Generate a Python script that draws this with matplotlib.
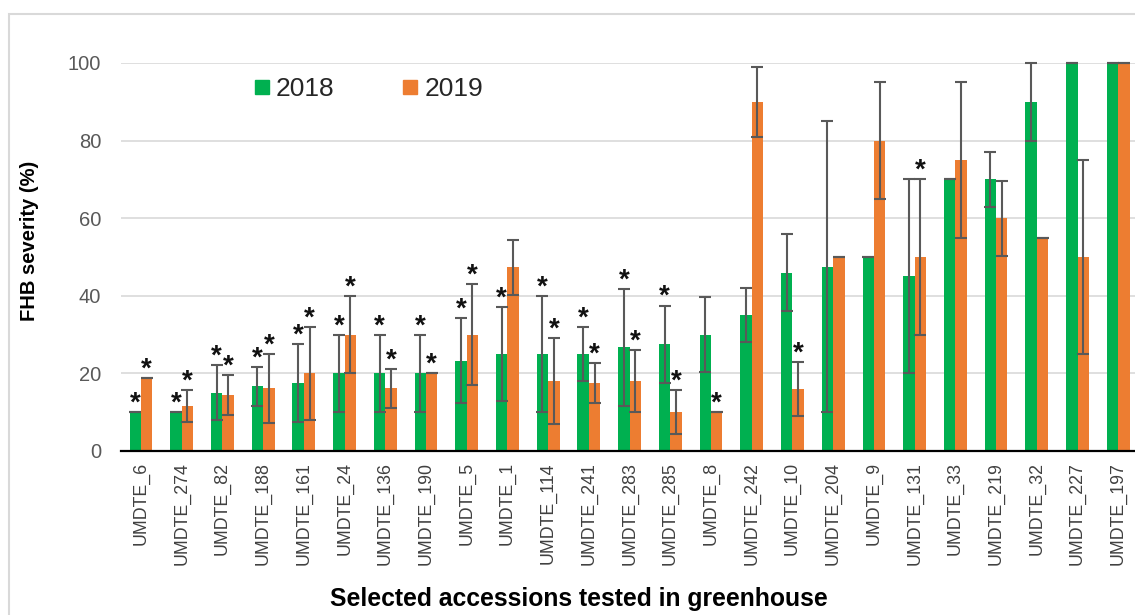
import numpy as np
import matplotlib
matplotlib.use("Agg")
import matplotlib.pyplot as plt
from matplotlib.lines import Line2D
from matplotlib.patches import Rectangle

plt.rcParams['font.family'] = ['Liberation Sans', 'DejaVu Sans']

# accessions and FHB severity means / SD for the two greenhouse seasons
accessions = ['UMDTE_6', 'UMDTE_274', 'UMDTE_82', 'UMDTE_188', 'UMDTE_161', 'UMDTE_24',
              'UMDTE_136', 'UMDTE_190', 'UMDTE_5', 'UMDTE_1', 'UMDTE_114', 'UMDTE_241',
              'UMDTE_283', 'UMDTE_285', 'UMDTE_8', 'UMDTE_242', 'UMDTE_10', 'UMDTE_204',
              'UMDTE_9', 'UMDTE_131', 'UMDTE_33', 'UMDTE_219', 'UMDTE_32', 'UMDTE_227',
              'UMDTE_197']
sev_2018 = [10, 10, 15, 16.7, 17.5, 20, 20, 20, 23.3, 25, 25, 25, 26.7, 27.5, 30,
            35, 46, 47.5, 50, 45, 70, 70, 90, 100, 100]
sd_2018 = [0, 0, 7.1, 5, 10, 10, 10, 10, 11, 12, 15, 7, 15, 10, 9.6,
           7, 10, 37.5, 0, 25, 0, 7, 10, 0, 0]
sev_2019 = [18.7, 11.6, 14.4, 16.2, 20, 30, 16.2, 20, 30, 47.3, 18, 17.5, 18, 10, 10,
            90, 15.9, 50, 80, 50, 75, 60, 55, 50, 100]
sd_2019 = [0, 4, 5.1, 8.9, 12, 10, 5, 0, 13, 7.1, 11, 5.2, 8, 5.6, 0,
           9, 7, 0, 15, 20, 20, 9.7, 0, 25, 0]
# significance markers (1 = asterisk drawn)
sig_2018 = [1, 1, 1, 1, 1, 1, 1, 1, 1, 1, 1, 1, 1, 1, 0,
            0, 0, 0, 0, 0, 0, 0, 0, 0, 0]
sig_2019 = [1, 1, 1, 1, 1, 1, 1, 1, 1, 0, 1, 1, 1, 1, 1,
            0, 1, 0, 0, 1, 0, 0, 0, 0, 0]

green = '#00b050'
orange = '#ed7d31'
W, H = 1135, 615

fig = plt.figure(figsize=(W / 100, H / 100), dpi=100)
ax = fig.add_axes([120.6 / W, 164 / H, 1018 / W, 388 / H])

x = np.arange(len(accessions))
bw = 0.28
series = [(sev_2018, sd_2018, sig_2018, green, '2018', -bw / 2),
          (sev_2019, sd_2019, sig_2019, orange, '2019', bw / 2)]

for vals, sd, sig, col, lab, off in series:
    ax.bar(x + off, vals, width=bw, color=col, zorder=2)
    ax.errorbar(x + off, vals, yerr=sd, fmt='none', ecolor='#595959',
                elinewidth=1.5, capsize=4.3, capthick=1.5, zorder=3, clip_on=False)
    for i in range(len(vals)):
        if sig[i]:
            ax.annotate('*', (x[i] + off, vals[i] + sd[i]), xytext=(0, 1),
                        textcoords='offset points', ha='center', va='baseline',
                        fontsize=20, fontweight='bold', color='#111111',
                        annotation_clip=False)

ax.set_xlim(-0.5, len(accessions) - 0.5)
ax.set_ylim(0, 100)
ax.set_yticks([0, 20, 40, 60, 80, 100])
ax.yaxis.grid(True, color='#d9d9d9', linewidth=1.2, zorder=0)
ax.set_axisbelow(True)
ax.set_xticks(x)
ax.set_xticklabels(accessions, rotation=90, fontsize=12.8, color='#404040')
ax.tick_params(axis='x', length=0, pad=8)
ax.tick_params(axis='y', length=0, pad=14, labelsize=14.5, labelcolor='#595959')
for s in ['top', 'right', 'left']:
    ax.spines[s].set_visible(False)
ax.spines['bottom'].set_color('black')
ax.spines['bottom'].set_linewidth(1.6)
ax.spines['bottom'].set_zorder(4)

handles = [Line2D([], [], marker='s', linestyle='none', markersize=9.5,
                  markerfacecolor=c, markeredgecolor=c) for c in (green, orange)]
fig.legend(handles, ['2018', '2019'], loc='center left',
           bbox_to_anchor=(255 / W, 1 - 89 / H), ncol=2, frameon=False,
           fontsize=19, handlelength=0.5, handletextpad=0.3, columnspacing=2.6,
           borderpad=0, borderaxespad=0, labelcolor='#262626')

fig.text(30 / W, 1 - 241 / H, 'FHB severity (%)', rotation=90, ha='center',
         va='center', fontsize=14.5, fontweight='bold', color='black')
fig.text(579 / W, 9 / H, 'Selected accessions tested in greenhouse', ha='center',
         va='baseline', fontsize=17.8, fontweight='bold', color='black')

# outer chart-area border
fig.add_artist(Rectangle((9 / W, -0.2), 1.2, 1.2 - 14 / H, transform=fig.transFigure,
                         fill=False, edgecolor='#d9d9d9', linewidth=1.5))

fig.savefig('out.png', dpi=100)
